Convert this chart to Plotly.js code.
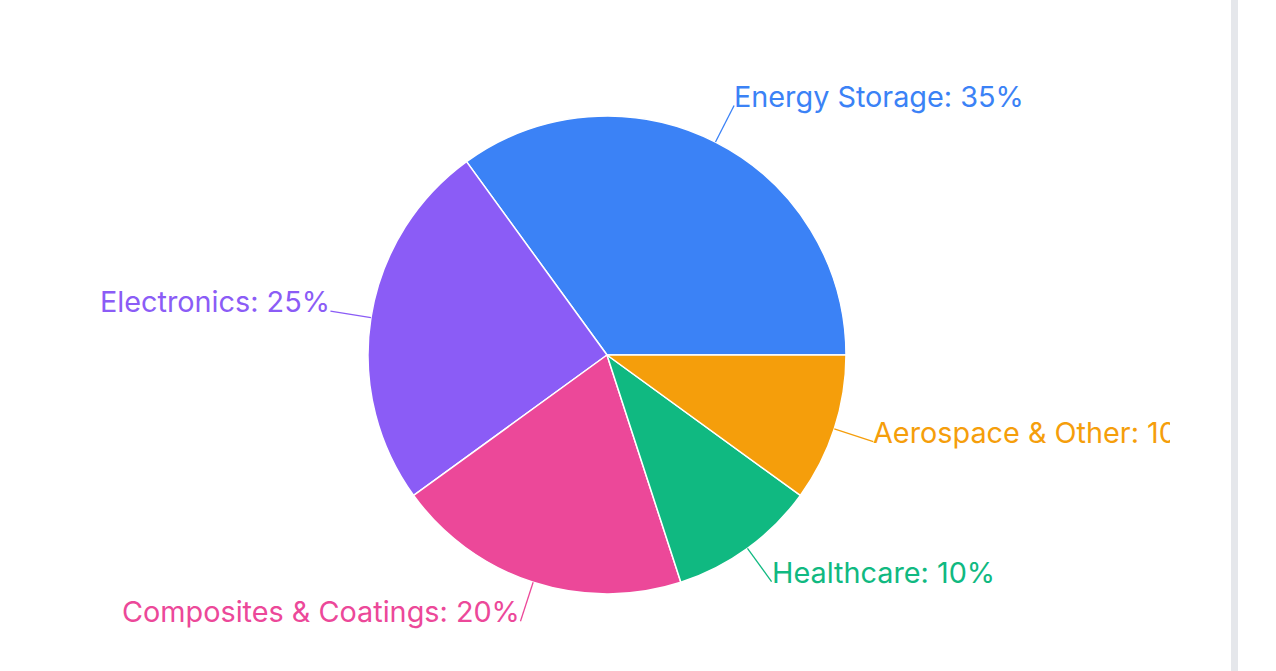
<!DOCTYPE html>
<html>
<head>
<meta charset="utf-8">
<script src="https://cdn.plot.ly/plotly-3.0.1.min.js"></script>
<style>
  html, body { margin: 0; padding: 0; background: #ffffff; overflow: hidden; }
  #chart { position: absolute; left: 0; top: 0; width: 1170px; height: 671px; }
  #bar { position: absolute; left: 1231px; top: 0; width: 7px; height: 671px; background: #e5e7eb; }
</style>
</head>
<body>
<div id="chart"></div>
<div id="bar"></div>
<script>
const categories = ["Energy Storage", "Electronics", "Composites & Coatings", "Healthcare", "Aerospace & Other"];
const shares = [35, 25, 20, 10, 10];
const colors = ["#3b82f6", "#8b5cf6", "#ec4899", "#10b981", "#f59e0b"];

const W = 1170, H = 671;
const margin = { l: 44, r: 0, t: 116, b: 77 };
const plotW = W - margin.l - margin.r;
const plotH = H - margin.t - margin.b;
const R = Math.min(plotW, plotH) / 2;
const leader = 41;       // leader line length in px
const fontSize = 28.8;

const total = shares.reduce((a, b) => a + b, 0);
// first slice starts at 3 o'clock and runs counterclockwise
const rotation = 90 - 360 * shares[0] / total;

const shapes = [];
const annotations = [];
let acc = 0;
shares.forEach((v, i) => {
  const mid = (acc + v / 2) / total * 2 * Math.PI;  // math angle, ccw from east
  acc += v;
  const c = Math.cos(mid), s = Math.sin(mid);
  const x0 = 0.5 + R * c / plotW, y0 = 0.5 + R * s / plotH;
  const x1 = 0.5 + (R + leader) * c / plotW, y1 = 0.5 + (R + leader) * s / plotH;
  shapes.push({
    type: "line", xref: "paper", yref: "paper",
    x0: x0, y0: y0, x1: x1, y1: y1,
    line: { color: colors[i], width: 1.3 }
  });
  const right = c >= 0;
  annotations.push({
    xref: "paper", yref: "paper", x: x1, y: y1,
    text: categories[i] + ": " + v + "%",
    showarrow: false,
    xanchor: right ? "left" : "right",
    yanchor: "bottom",
    xshift: right ? -2 : 2,
    yshift: -10,
    font: { family: "Inter, sans-serif", size: fontSize, color: colors[i] }
  });
});

const trace = {
  type: "pie",
  labels: categories,
  values: shares,
  sort: false,
  direction: "counterclockwise",
  rotation: rotation,
  marker: { colors: colors, line: { color: "#ffffff", width: 1.5 } },
  textinfo: "none",
  hoverinfo: "label+percent",
  showlegend: false
};

const layout = {
  width: W,
  height: H,
  margin: margin,
  paper_bgcolor: "#ffffff",
  plot_bgcolor: "#ffffff",
  showlegend: false,
  font: { family: "Inter, sans-serif" },
  shapes: shapes,
  annotations: annotations
};

Plotly.newPlot("chart", [trace], layout, { displayModeBar: false, staticPlot: true });
</script>
</body>
</html>
